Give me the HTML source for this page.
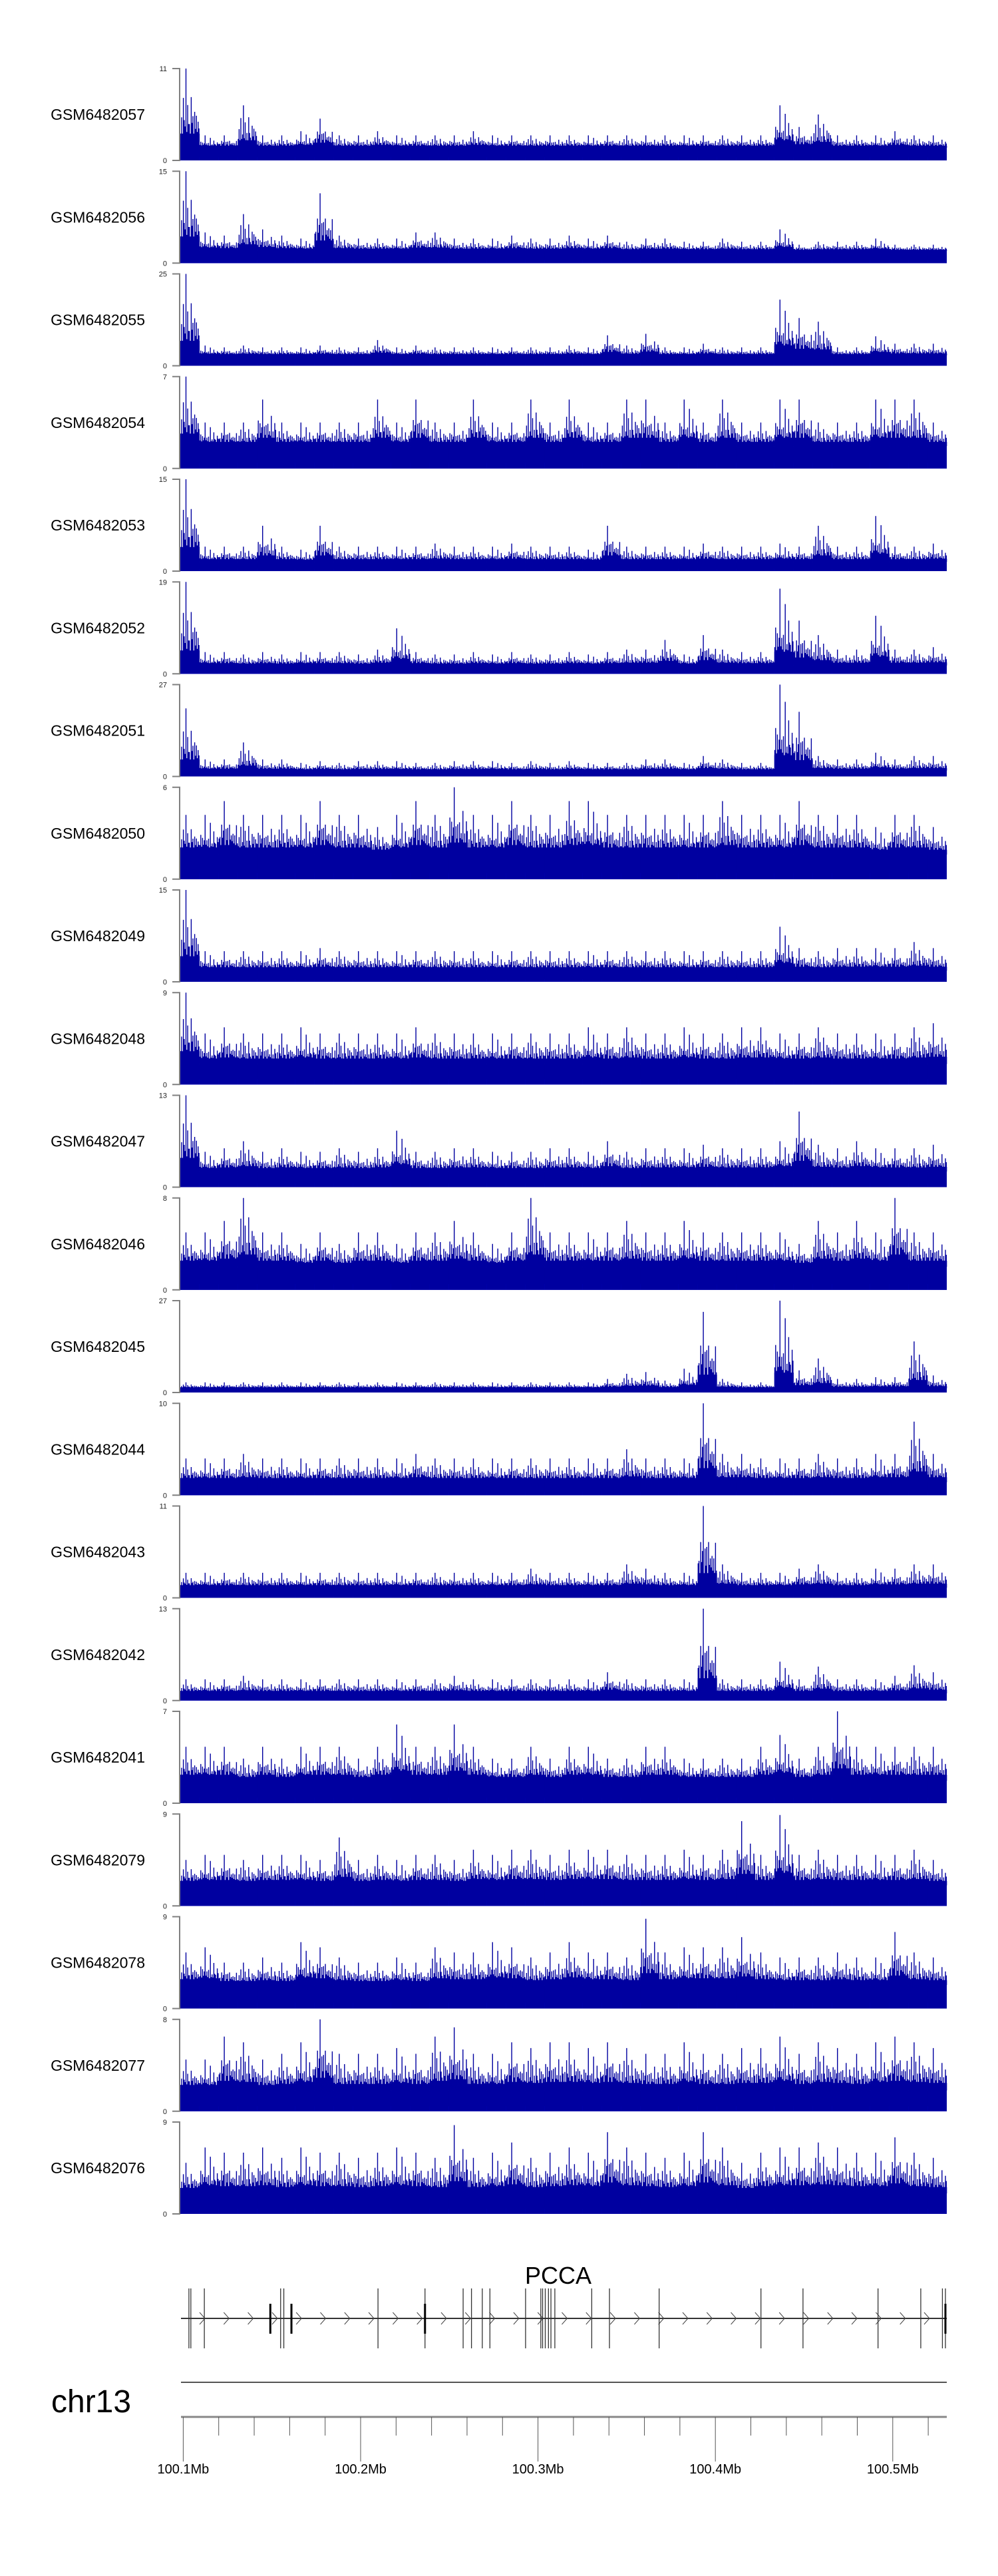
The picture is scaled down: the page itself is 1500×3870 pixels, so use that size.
<!DOCTYPE html>
<html><head><meta charset="utf-8">
<style>
html,body{margin:0;padding:0;background:#fff;}
svg{display:block;font-family:"Liberation Sans",sans-serif;}
</style></head>
<body>
<svg id="fig" width="1500" height="3870" viewBox="0 0 1500 3870" xmlns="http://www.w3.org/2000/svg"></svg>
<script>
const sampleNames = ["GSM6482057","GSM6482056","GSM6482055","GSM6482054","GSM6482053","GSM6482052","GSM6482051","GSM6482050","GSM6482049","GSM6482048","GSM6482047","GSM6482046","GSM6482045","GSM6482044","GSM6482043","GSM6482042","GSM6482041","GSM6482079","GSM6482078","GSM6482077","GSM6482076"];
const yMax = [11,15,25,7,15,19,27,6,15,9,13,8,27,10,11,13,7,9,9,8,9];
const baseLevel = [1.5,2,2.8,1.7,1.5,1.7,1.7,1.6,1.8,2,2.2,2,1.2,1.4,1.2,1,1.7,2,2.3,1.8,2];
const peaks0 = [11,3,3,6.6,3,3,3.5,5,3,3,3.5,3,3,3,3,3.5,3,3,3,3,3,3,3,3,3,3,3,3,3,3,3,6.6,4,5.5,3,3,3,3.5,3,3];
const peaks1 = [15,5,4.5,8,5.5,4.5,4,11.4,4.5,4,4,4,5,5,4,4,4,4.5,4,4,4.5,4,4.5,3.5,4,4,3.5,3.5,4,3.5,3.5,5.5,3,3.5,3.5,3.5,4,3,3,3];
const peaks2 = [25,5.5,5,5.5,5,5,5,5.5,5,5,7,5,5.5,5,5,5,5,5,5,5,5.5,5,8.3,5.5,8.7,5,5,6,5,5,5,18,13,12,5,5,8,6,6,6];
const peaks3 = [7,3.5,3.5,3.5,5.25,3.5,3.5,3.5,3.5,3.5,5.25,3.5,5.25,3.5,3.5,5.25,3.5,3.5,5.25,3.5,5.25,3.5,3.5,5.25,5.25,3.5,5.25,3.5,5.25,3.5,3.5,5.25,5.25,3.5,3.5,3.5,5.25,5.25,5.25,3.5];
const peaks4 = [15,4,4,4,7.4,4,3.5,7.4,4,4,4,4,4,4.5,4,4,4,4.5,4,4,4,3.5,7.4,4,4,4,4,4.5,4,4,4,4.5,4,7.4,4,4,9,4,4,4.5];
const peaks5 = [19,4.5,4.5,4,4.5,4,4.5,4.5,4.5,4,5,9.4,4.5,4,4,4.5,4,4.5,4,4,4.5,4,4.5,5,5,7,4,8,5,4.5,4.5,17.6,11,8,5,5,12,5,5,5.5];
const peaks6 = [20,5,5,10,5,5,4,4.5,4,4.5,4.5,4.5,4,4,4.5,4.5,4.5,4,4.5,4,4.5,4,4,4,5,5,4,6,5,4,4,27,19,6,5,5,7,5,6,6];
const peaks7 = [4.2,4.2,5.1,4.2,4.2,4.2,4.2,5.1,4.2,4.2,3.4,4.2,5.1,4.2,6,4.2,4.2,5.1,4.2,4.2,5.1,5.1,4.2,4.2,4.2,4.2,4.2,4.2,5.1,4.2,4.2,4.2,5.1,4.2,4.2,4.2,3.4,4.2,4.2,3.4];
const peaks8 = [15,5,5,5,5,5,5,5.5,5,5,5,5,5,5,5,5,5,5,5,5,5,5,5,5,5,5,5,5,5,5,5,9,5.5,5,5.5,5.5,5.5,5.5,6.5,5.5];
const peaks9 = [9,5,5.6,5,5,5,5.6,5,5,5,5,5,5.6,5,5,5,5,5,5,5,5,5.6,5,5.6,5,5,5.6,5,5,5.6,5.6,5,5,5.6,5,5,5,5,5.6,6];
const peaks10 = [13,5,5.5,6.5,5,5.5,5,5,5.5,5,5.5,8,5,5,5.5,5.5,5,5,5,5.5,5.5,5,6.5,5,5.5,5.5,5.5,6,5.5,5.5,5.5,6.5,10.7,6,5.5,6.5,5.5,5.5,5.5,6];
const peaks11 = [5,5,6,8,5,5,4,5,4,5,5,4,5,5,6,5,4,5,8,5,5,5,5,6,5,5,6,5,5,5,5,5,4,6,5,6,5,8,5,5];
const peaks12 = [3,3,3,3,3,3,3,3,3,3,3,3,3,3,3,3,3,3,3,3,3,3,4,5.5,6,3.5,7,23.7,4,3,3,27,6.5,10,4,4,4.5,4.5,15,5];
const peaks13 = [4,4,4,4.5,4,4,4,4,4,4,4,4,4.5,4,4,4,4,4,4,4,4,4,4,5,4,4,4,10,4.5,4.5,4,4,4,4.5,4,4,4.5,4.5,8,4.5];
const peaks14 = [3,3,3,3,3,3,3,3,3,3,3,3,3,3,3,3,3,3,3.5,3,3,3,3,4,3.5,3,3,11,4,3,3,3,3.5,4,3,3,3.5,3.5,4,4];
const peaks15 = [3,3,3,3.5,3,3,3,3,3,3,3,3,3,3,3.5,3,3,3,3,3,3,3,4,3,3,3,3,13,3,3,3,5.5,3,4.8,3,3,3,3.5,5,4];
const peaks16 = [4.3,4.3,4.3,3.4,4.3,3.4,4.3,4.3,4.3,3.4,4.3,6,4.3,4.3,6,4.3,3.4,3.4,4.3,3.4,4.3,4.3,3.4,3.4,4.3,4.3,3.4,3.4,3.4,3.4,4.3,5.2,3.4,4.3,7,4.3,4.3,4.3,4.3,4.3];
const peaks17 = [4.5,5,5,4.5,5,5,5,4.5,6.7,4.5,5,4.5,5,5,4.5,5.5,5,5.5,5.5,5,5.5,5.5,5.5,5,5,5,5.5,5,5.5,8.3,5,8.9,5,5.5,5,5,5,5,5.5,4.5];
const peaks18 = [5.5,6,4.5,4.5,5,4.5,6.5,6,5,4.5,4.5,5,4.5,6,5.5,5.5,6.5,6,5,5.5,6.5,5.5,5.5,5,8.8,5.5,6,6,6,7,5.5,5,5,5,5.5,5,5,7.5,5.5,5];
const peaks19 = [4.5,4.5,6.5,6,4.5,5,6,8,5,5,5,5.5,5,6.5,7.3,5,5,6,5.5,6,6,5.5,6,5.5,5,5,6,5,5,5.5,5.5,6.5,5,6,5.5,5,6,6.5,6,5.5];
const peaks20 = [5,6.5,6,6,6.5,5.5,6.5,6,6,5.5,6,6.5,6,5.5,8.7,5.5,6,7,5.5,6,6.5,6,8,6.5,6,5.5,6,8,6.5,5,6,6.5,6.5,7,6.5,6,6,7.5,6,5.5];
const allPeaks = [peaks0,peaks1,peaks2,peaks3,peaks4,peaks5,peaks6,peaks7,peaks8,peaks9,peaks10,peaks11,peaks12,peaks13,peaks14,peaks15,peaks16,peaks17,peaks18,peaks19,peaks20];
const exonKb = [3.2,4.3,11.9,54.9,56.7,109.8,136.3,157.8,162.5,168.6,172.9,193,201.6,202.6,204.1,205.9,207.3,209.5,230.3,240.3,268.3,325.7,349.4,391.7,415.8,428,429.7];
const thickKb = [49.1,61,136.3,429.7];
const majorTicksKb = [0,100,200,300,400];
const majorLabels = ["100.1Mb","100.2Mb","100.3Mb","100.4Mb","100.5Mb"];
const minorTicksKb = [20,40,60,80,120,140,160,180,220,240,260,280,320,340,360,380,420];

const NS="http://www.w3.org/2000/svg";
const svg=document.getElementById('fig');
function mk(tag,attrs,parent){const e=document.createElementNS(NS,tag);for(const k in attrs)e.setAttribute(k,attrs[k]);(parent||svg).appendChild(e);return e;}

const X0=271, X1=1423, TOP0=103, PITCH=154.25, H=138;
const genomeX = kb => 275.4 + kb*2.666;
const SP=22;
const fr=[0.3,0.55,0.2,0.7,0.35,0.45,1,0.25,0.6,0.3,0.5,0.15,0.8,0.35,0.4,0.25,0.65,0.3,0.45,0.2,0.55,0.35];

for(let t=0;t<sampleNames.length;t++){
  const top=TOP0+t*PITCH, zero=top+H;
  const ys=v=>zero - Math.min(v,yMax[t])/yMax[t]*H;
  const g=mk('g',{});
  
  
  const lab=mk('text',{x:218,y:(top+zero)/2+8,'text-anchor':'end','font-size':23,fill:'#000'},g);
  lab.textContent=sampleNames[t];
  
  
  const ax=mk('path',{d:`M259 ${top}H270V${zero}H259`,stroke:'#808080','stroke-width':2,fill:'none'},g);
  
  
  const tt=mk('text',{x:251,y:top+4,'text-anchor':'end','font-size':11,fill:'#222'},g);tt.textContent=String(yMax[t]);
  
  
  const tz=mk('text',{x:251,y:zero+4,'text-anchor':'end','font-size':11,fill:'#222'},g);tz.textContent='0';
  
  
  const p=allPeaks[t], n=p.length, bw=(X1-X0)/n, b=baseLevel[t];
  const bf=mk('rect',{x:X0,y:ys(b),width:X1-X0,height:zero-ys(b),fill:'#00009c'},g);
  
  
  const bb=mk('rect',{x:X0,y:ys(b*0.25),width:X1-X0,height:zero-ys(b*0.25),fill:'#0000e6'},g);
  
  
  for(let i=0;i<n;i++){
    const mv=b+(p[i]-b)*0.18;
    const bar=mk('rect',{x:X0+i*bw,y:ys(mv),width:bw+0.3,height:ys(b)-ys(mv),fill:'#0000a0'},g);
    
    
    let d='';
    for(let k=0;k<SP;k++){
      const f = (k===6) ? 1 : fr[k]*(0.6+0.4*((i*7+k)%5)/4);
      const v=b+(p[i]-b)*f;
      const x=X0+(i+(k+0.5)/SP)*bw;
      d+=`M${x.toFixed(1)} ${zero}V${ys(v).toFixed(1)}`;
    }
    const sp=mk('path',{d:d,stroke:'#0000a0','stroke-width':1.4,fill:'none'},g);
    
    
  }
}

const gg=mk('g',{});


const gt=mk('text',{x:839,y:3431,'text-anchor':'middle','font-size':36,fill:'#000'},gg);gt.textContent='PCCA';


const gl=mk('line',{x1:272,x2:1423,y1:3483,y2:3483,stroke:'#333','stroke-width':2},gg);


let ad='';
for(let x=300;x<1415;x+=36.3){ad+=`M${x.toFixed(1)} 3474L${(x+8).toFixed(1)} 3483L${x.toFixed(1)} 3492`;}
const ar=mk('path',{d:ad,stroke:'#444','stroke-width':1,fill:'none'},gg);


for(const kb of exonKb){
  const e=mk('line',{x1:genomeX(kb),x2:genomeX(kb),y1:3438,y2:3528,stroke:'#333','stroke-width':1.3},gg);
  
  
}
for(const kb of thickKb){
  const e=mk('line',{x1:genomeX(kb),x2:genomeX(kb),y1:3461,y2:3506,stroke:'#000','stroke-width':3},gg);
  
  
}
const cl=mk('text',{x:77,y:3624,'font-size':48,fill:'#000'});cl.textContent='chr13';


const cline=mk('line',{x1:272,x2:1423,y1:3579,y2:3579,stroke:'#555','stroke-width':2});


const axl=mk('line',{x1:272,x2:1423,y1:3631,y2:3631,stroke:'#888','stroke-width':3});


for(const kb of minorTicksKb){
  const tk=mk('line',{x1:genomeX(kb),x2:genomeX(kb),y1:3631,y2:3659,stroke:'#555','stroke-width':1});
  
  
}
majorTicksKb.forEach((kb,i)=>{
  const tk=mk('line',{x1:genomeX(kb),x2:genomeX(kb),y1:3631,y2:3698,stroke:'#555','stroke-width':1});
  
  
  const tl=mk('text',{x:genomeX(kb),y:3716,'text-anchor':'middle','font-size':20,fill:'#000'});tl.textContent=majorLabels[i];
  
  
});
</script>
</body></html>
